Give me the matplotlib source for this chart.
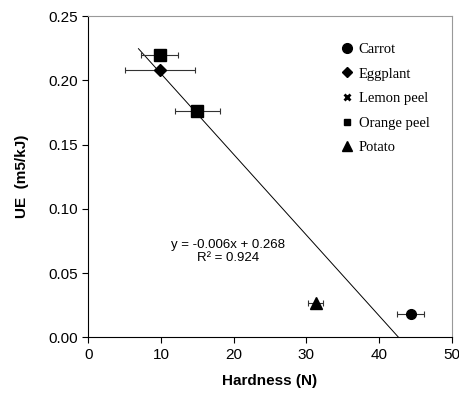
import matplotlib.pyplot as plt
from matplotlib.lines import Line2D

# data
names = ["Carrot", "Eggplant", "Orange peel", "Orange peel", "Potato"]
hardness = [44.35, 9.86, 9.8, 15.0, 31.3]
hardness_err = [1.85, 4.8, 2.6, 3.1, 1.05]
ue = [0.018, 0.208, 0.220, 0.176, 0.027]
markers = ["o", "D", "s", "s", "^"]
sizes = [7, 6, 8, 8, 8]

# linear trend line
slope = -0.00628
intercept = 0.268
trend_x = [6.9, 42.7]

legend_names = ["Carrot", "Eggplant", "Lemon peel", "Orange peel", "Potato"]
legend_markers = ["o", "D", "x", "s", "^"]
legend_sizes = [7, 5, 4.5, 5, 7]

plt.rcParams["font.family"] = ["Liberation Sans", "DejaVu Sans"]

fig = plt.figure(figsize=(4.6, 3.94), dpi=100)
ax = fig.add_axes([0.192, 0.144, 0.79, 0.815])

for x, y, xe, m, s in zip(hardness, ue, hardness_err, markers, sizes):
    ax.errorbar(x, y, xerr=xe, fmt=m, color="black", markersize=s,
                ecolor="#333333", elinewidth=0.8, capsize=2, capthick=0.8, zorder=3)

ax.plot(trend_x, [slope * x + intercept for x in trend_x], color="black", lw=0.7, zorder=2)

ax.text(19.2, 0.067, "y = -0.006x + 0.268\nR² = 0.924", ha="center", va="center",
        fontsize=9.5, linespacing=1.15)

handles = [Line2D([], [], ls="none", marker=m, color="black", markersize=s,
                  markeredgewidth=2 if m == "x" else 1)
           for m, s in zip(legend_markers, legend_sizes)]
ax.legend(handles, legend_names, loc="upper left", bbox_to_anchor=(0.66, 0.958),
          frameon=False, prop={"family": "Liberation Serif", "size": 10.5},
          handlelength=0.8, handletextpad=0.4, labelspacing=0.78)

ax.set_xlim(0, 50)
ax.set_ylim(0, 0.25)
ax.set_xticks([0, 10, 20, 30, 40, 50])
ax.set_yticks([0, 0.05, 0.10, 0.15, 0.20, 0.25])
ax.set_yticklabels([f"{v:.2f}" for v in ax.get_yticks()])
ax.tick_params(direction="out", length=4, width=0.8, labelsize=11)

ax.spines["top"].set_color("#999999")
ax.spines["right"].set_color("#999999")

ax.set_xlabel("Hardness (N)", fontweight="bold", fontsize=11, labelpad=9)
ax.set_ylabel("UE  (m5/kJ)", fontweight="bold", fontsize=11, labelpad=14)

fig.savefig("out.png", dpi=100)
